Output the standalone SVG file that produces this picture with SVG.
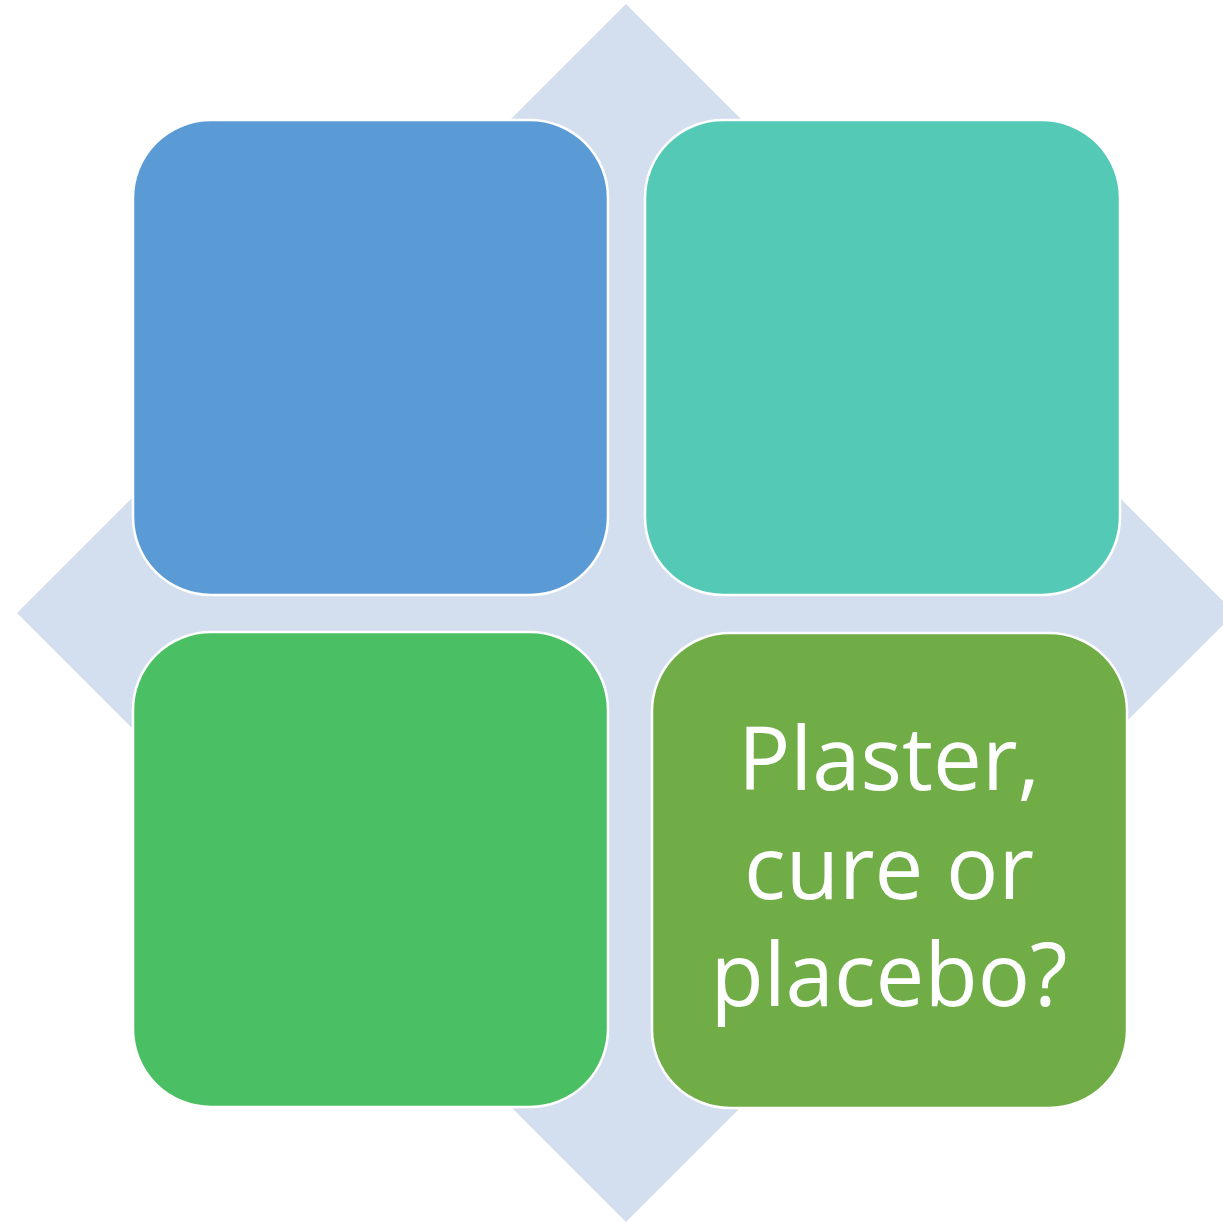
<svg xmlns="http://www.w3.org/2000/svg" width="1223" height="1222" viewBox="0 0 1223 1222">
<style>
.box{stroke:#FFFFFF;stroke-width:2.5}
.lbl{font-family:"Open Sans","Liberation Sans",sans-serif;font-size:87px;fill:#FFFFFF;text-anchor:middle}
</style>
<rect width="1223" height="1222" fill="#FFFFFF"/>
<g id="background-diamond">
<polygon points="626,4 1235,613 626,1222 17,613" fill="#D3DEEF"/>
</g>
<g id="connectors"></g>
<g id="node-top-left">
<rect class="box" x="133" y="120" width="475" height="475" rx="78" ry="78" fill="#5B9BD5"/>
</g>
<g id="node-top-right">
<rect class="box" x="645" y="120" width="475" height="475" rx="78" ry="78" fill="#54C9B6"/>
</g>
<g id="node-bottom-left">
<rect class="box" x="133" y="632" width="475" height="475" rx="78" ry="78" fill="#4BBF63"/>
</g>
<g id="node-bottom-right">
<rect class="box" x="652" y="633" width="475" height="475" rx="78" ry="78" fill="#70AD47"/>
<text class="lbl" x="889" y="790">Plaster,</text>
<text class="lbl" x="889" y="899">cure or</text>
<text class="lbl" x="889" y="1006">placebo?</text>
</g>
</svg>
